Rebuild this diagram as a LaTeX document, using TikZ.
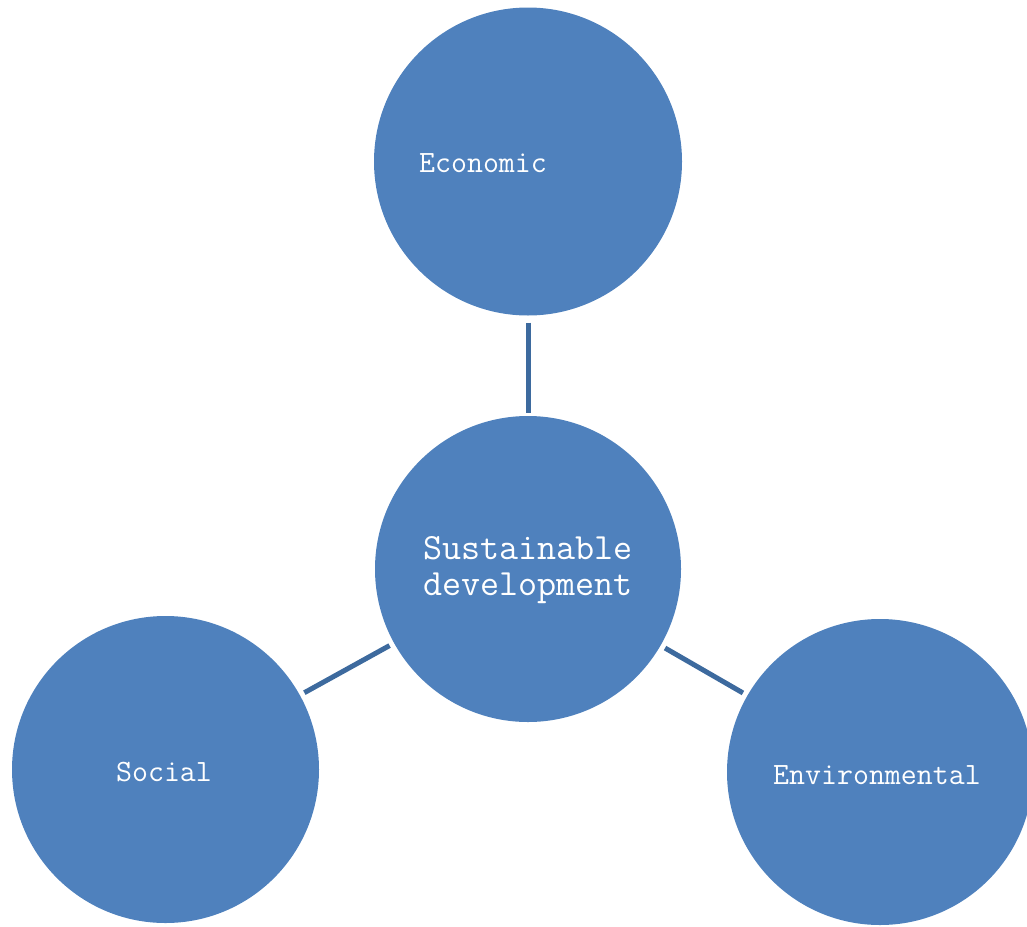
\documentclass[tikz,border=0pt]{standalone}
\definecolor{discblue}{HTML}{4F81BD}
\definecolor{linkblue}{HTML}{3D6A9E}
\tikzset{
  disc/.style={circle, fill=discblue, draw=none, minimum size=#1, inner sep=0pt},
  lbl/.style={text=white, font=\ttfamily\fontsize{31}{36}\selectfont, inner sep=0pt},
  biglbl/.style={text=white, font=\ttfamily\fontsize{37}{36}\selectfont, align=center, inner sep=0pt},
  link/.style={draw=linkblue, line width=5pt}
}
\begin{document}
\begin{tikzpicture}[x=1pt, y=-1pt]
  \useasboundingbox (0,0) rectangle (1027,926);
  \clip (0,0) rectangle (1027,926);
  % the four circles
  \node[disc=308pt] (econ)   at (528,161.5) {};
  \node[disc=306pt] (sd)     at (528,569)   {};
  \node[disc=307pt] (social) at (165.5,769.5) {};
  \node[disc=306pt] (env)    at (880,772)   {};
  % their captions
  \node[lbl] (econ-t) at (483,163) {Economic};
  \node[biglbl] (sd-t) at (528,570) {Sustainable\\development};
  \node[lbl] (social-t) at (164,772) {Social};
  \node[lbl] (env-t) at (877,775) {Environmental};
  % links between the centre and the three pillars
  \draw[link, shorten <=7pt, shorten >=3pt] (econ) -- (sd);
  \draw[link, shorten <=5pt, shorten >=5pt] (sd) -- (social);
  \draw[link, shorten <=5pt, shorten >=5pt] (sd) -- (env);
\end{tikzpicture}
\end{document}
